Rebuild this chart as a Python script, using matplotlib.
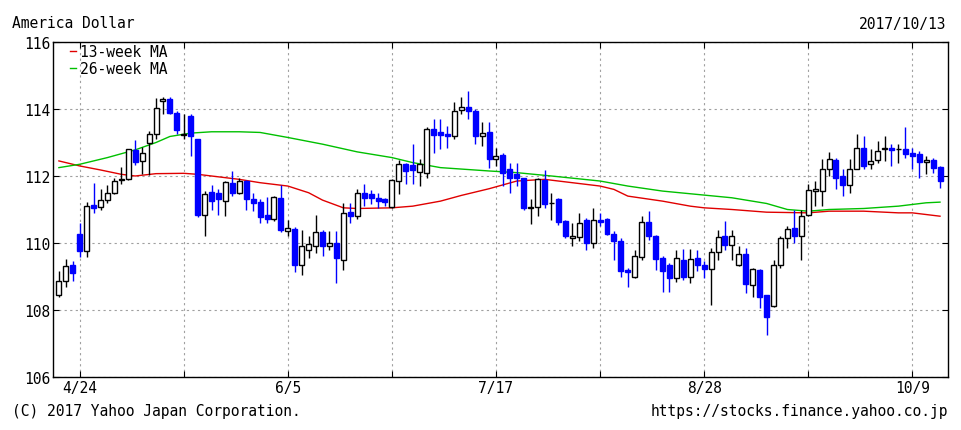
import pandas as pd
import matplotlib.pyplot as plt
from matplotlib.lines import Line2D

# daily candles 2017/4/19 - 2017/10/13 (weekdays)
dates = pd.bdate_range('2017-04-19', '2017-10-13')

opens = [108.44, 108.87, 109.35, 110.27, 109.77, 111.12, 111.06, 111.28, 111.50, 111.87,
         111.92, 112.77, 112.45, 112.98, 113.26, 114.25, 114.30, 113.87, 113.22, 113.80,
         113.10, 110.85, 111.52, 111.50, 111.26, 111.80, 111.50, 111.84, 111.30, 111.23,
         110.83, 110.72, 111.33, 110.35, 110.42, 109.34, 109.80, 109.92, 110.32, 109.90,
         110.00, 109.50, 110.92, 110.82, 111.50, 111.45, 111.35, 111.30, 111.07, 111.85,
         112.35, 112.32, 112.13, 112.10, 113.40, 113.30, 113.25, 113.20, 113.98, 114.05,
         113.95, 113.18, 113.30, 112.50, 112.62, 112.20, 112.05, 111.95, 111.03, 111.08,
         111.88, 111.18, 111.30, 110.65, 110.15, 110.18, 110.70, 110.00, 110.70, 110.72,
         110.28, 110.05, 109.20, 109.00, 109.58, 110.62, 110.20, 109.55, 109.35, 108.95,
         109.50, 109.00, 109.55, 109.35, 109.22, 109.72, 110.20, 109.95, 109.35, 109.68,
         108.75, 109.20, 108.45, 108.12, 109.35, 110.15, 110.45, 110.20, 110.85, 111.55,
         111.55, 112.20, 112.47, 112.00, 111.72, 112.22, 112.85, 112.35, 112.48, 112.80,
         112.85, 112.80, 112.80, 112.70, 112.67, 112.42, 112.48, 112.28]
highs = [109.15, 109.52, 109.47, 110.61, 111.23, 111.80, 111.60, 111.72, 111.95, 112.27,
         112.82, 113.08, 112.88, 113.33, 114.33, 114.35, 114.37, 113.95, 113.85, 113.85,
         113.10, 111.55, 111.72, 111.60, 111.84, 112.14, 111.94, 111.87, 111.50, 111.30,
         111.36, 111.41, 111.72, 110.70, 110.48, 110.40, 110.20, 110.83, 110.40, 110.35,
         110.35, 111.20, 111.20, 111.60, 111.75, 111.57, 111.50, 111.35, 111.90, 112.47,
         112.40, 112.95, 112.50, 113.45, 113.70, 113.70, 113.50, 114.20, 114.35, 114.55,
         114.00, 113.60, 113.60, 112.85, 112.70, 112.40, 112.40, 111.95, 111.30, 111.93,
         112.18, 111.50, 111.35, 110.70, 110.60, 110.90, 110.75, 111.05, 110.90, 110.75,
         110.35, 110.15, 109.25, 109.80, 110.80, 110.95, 110.25, 109.60, 109.40, 109.80,
         109.82, 109.82, 109.80, 109.45, 109.85, 110.40, 110.65, 110.40, 109.90, 109.85,
         109.25, 109.22, 108.45, 109.50, 110.20, 110.50, 111.00, 111.00, 111.75, 111.85,
         112.50, 112.72, 112.55, 112.20, 112.50, 113.25, 113.20, 112.80, 113.05, 113.20,
         112.95, 112.95, 113.45, 112.85, 112.75, 112.60, 112.55, 112.30]
lows = [108.40, 108.68, 108.88, 109.59, 109.59, 110.90, 111.00, 111.18, 111.45, 111.77,
        111.87, 112.32, 112.07, 112.03, 113.11, 113.85, 113.85, 113.26, 113.10, 112.60,
        110.78, 110.20, 111.00, 110.85, 110.80, 111.40, 111.46, 111.00, 110.95, 110.60,
        110.60, 110.66, 110.32, 110.20, 109.14, 109.04, 109.55, 109.70, 109.60, 109.80,
        108.80, 109.20, 110.60, 110.72, 111.10, 111.15, 111.05, 111.10, 111.05, 111.45,
        111.75, 111.75, 111.70, 111.95, 112.70, 112.80, 112.85, 113.10, 113.85, 113.70,
        112.95, 112.90, 112.25, 112.30, 111.70, 111.50, 111.70, 111.00, 110.58, 110.80,
        111.05, 110.70, 110.55, 110.15, 109.90, 110.05, 109.80, 109.85, 110.50, 110.25,
        109.50, 109.00, 108.70, 108.95, 109.50, 110.10, 109.20, 108.55, 108.55, 108.85,
        108.90, 108.82, 109.15, 108.95, 108.15, 109.50, 109.80, 109.50, 109.30, 108.50,
        108.40, 108.05, 107.25, 108.10, 109.25, 109.85, 110.00, 109.50, 110.80, 111.10,
        111.10, 112.00, 111.60, 111.40, 111.48, 112.20, 112.20, 112.20, 112.40, 112.45,
        112.30, 112.40, 112.55, 112.20, 111.95, 112.05, 112.10, 111.65]
closes = [108.87, 109.32, 109.10, 109.77, 111.10, 111.04, 111.28, 111.50, 111.85, 111.92,
          112.80, 112.42, 112.70, 113.26, 114.03, 114.30, 113.87, 113.36, 113.25, 113.20,
          110.83, 111.45, 111.26, 111.30, 111.82, 111.50, 111.84, 111.30, 111.20, 110.79,
          110.73, 111.36, 110.40, 110.45, 109.34, 109.92, 109.98, 110.32, 109.92, 110.00,
          109.54, 110.90, 110.82, 111.50, 111.35, 111.35, 111.25, 111.22, 111.87, 112.35,
          112.15, 112.17, 112.35, 113.40, 113.22, 113.22, 113.20, 113.95, 114.05, 113.95,
          113.18, 113.28, 112.52, 112.60, 112.08, 111.95, 111.95, 111.05, 111.07, 111.90,
          111.15, 111.20, 110.62, 110.20, 110.22, 110.60, 110.00, 110.68, 110.62, 110.28,
          110.05, 109.15, 109.12, 109.60, 110.62, 110.20, 109.52, 109.15, 108.95, 109.55,
          109.00, 109.52, 109.33, 109.22, 109.72, 110.18, 109.95, 110.20, 109.68, 108.78,
          109.22, 108.40, 107.80, 109.35, 110.15, 110.43, 110.22, 110.80, 111.58, 111.60,
          112.20, 112.50, 111.95, 111.72, 112.22, 112.85, 112.30, 112.45, 112.75, 112.85,
          112.78, 112.82, 112.65, 112.60, 112.42, 112.48, 112.25, 111.85]

# moving averages (position = candle index)
ma13_idx = [0, 3, 6, 9, 11, 14, 18, 20, 22, 26, 29, 33, 36, 38, 41, 43, 48, 51, 55, 58,
            62, 66, 70, 74, 78, 80, 82, 87, 91, 93, 97, 102, 108, 111, 116, 121, 123, 125, 127]
ma13_val = [112.45, 112.30, 112.18, 112.05, 112.00, 112.07, 112.08, 112.05, 112.00, 111.90,
            111.80, 111.70, 111.50, 111.28, 111.05, 111.03, 111.05, 111.10, 111.25, 111.42,
            111.62, 111.85, 111.90, 111.80, 111.70, 111.60, 111.40, 111.25, 111.10, 111.05,
            111.00, 110.92, 110.90, 110.95, 110.95, 110.90, 110.90, 110.85, 110.80]
ma26_idx = [0, 3, 7, 11, 14, 16, 19, 22, 26, 29, 33, 38, 43, 48, 51, 55, 62, 66, 71, 78,
            82, 87, 93, 97, 102, 105, 108, 111, 116, 121, 125, 127]
ma26_val = [112.25, 112.35, 112.55, 112.78, 113.00, 113.18, 113.28, 113.32, 113.32, 113.30,
            113.15, 112.95, 112.72, 112.55, 112.40, 112.25, 112.15, 112.10, 112.00, 111.85,
            111.70, 111.55, 111.43, 111.35, 111.18, 111.00, 110.95, 111.00, 111.03, 111.10,
            111.20, 111.22]

xtick_labels = ['4/24', '6/5', '7/17', '8/28', '10/9']
grid_dates = ['2017-04-24', '2017-05-15', '2017-06-05', '2017-06-26', '2017-07-17',
              '2017-08-07', '2017-08-28', '2017-09-18', '2017-10-09']
yticks = [106, 108, 110, 112, 114, 116]

MONO = 'DejaVu Sans Mono'
FS = 10.5
UP_EDGE = 'black'
DOWN = '#0000ff'

fig = plt.figure(figsize=(9.61, 4.31), dpi=100)
ax = fig.add_axes([53 / 961, 1 - 378 / 431, 895 / 961, 335 / 431])

x = list(range(len(dates)))
up = [c >= o for o, c in zip(opens, closes)]

# wicks
ax.vlines(x, lows, highs, colors=[UP_EDGE if u else DOWN for u in up], lw=1.0, zorder=3)

# MA lines behind the bodies
ax.plot(ma13_idx, ma13_val, color='#e00000', lw=1.0, zorder=2)
ax.plot(ma26_idx, ma26_val, color='#00c000', lw=1.0, zorder=2)

# bodies
bottoms = [min(o, c) for o, c in zip(opens, closes)]
heights = [abs(c - o) for o, c in zip(opens, closes)]
ax.bar(x, heights, bottom=bottoms, width=0.72,
       color=['white' if u else DOWN for u in up],
       edgecolor=[UP_EDGE if u else DOWN for u in up], lw=1.0, zorder=4)

ax.set_xlim(-0.85, 128.15)
ax.set_ylim(106, 116)

pos = {d.strftime('%Y-%m-%d'): i for i, d in enumerate(dates)}
grid_pos = [pos[d] for d in grid_dates]
ax.set_xticks(grid_pos[::2])
ax.set_xticklabels(xtick_labels, fontfamily=MONO, fontsize=FS)
ax.set_xticks(grid_pos[1::2], minor=True)
ax.set_yticks(yticks)
ax.set_yticklabels([str(v) for v in yticks], fontfamily=MONO, fontsize=FS)

ax.grid(True, which='both', color='#a0a0a0', linestyle=(0, (2, 3)), lw=0.8, zorder=1)
ax.tick_params(which='both', direction='in', length=4, top=True, right=True, width=0.8, pad=2)
for s in ax.spines.values():
    s.set_linewidth(1.0)

handles = [Line2D([], [], color='#e00000', lw=1.0),
           Line2D([], [], color='#00c000', lw=1.0)]
ax.legend(handles, ['13-week MA', '26-week MA'], loc='upper left', frameon=False,
          prop={'family': MONO, 'size': FS}, handlelength=0.45, handletextpad=0.25,
          labelspacing=0.1, borderaxespad=0.0, bbox_to_anchor=(0.012, 1.01))

fig.text(12 / 961, 1 - 24 / 431, 'America Dollar', fontfamily=MONO, fontsize=FS, va='center')
fig.text(946 / 961, 1 - 24 / 431, '2017/10/13', fontfamily=MONO, fontsize=FS, va='center', ha='right')
fig.text(12 / 961, 1 - 412 / 431, '(C) 2017 Yahoo Japan Corporation.', fontfamily=MONO,
         fontsize=FS, va='center')
fig.text(948 / 961, 1 - 412 / 431, 'https://stocks.finance.yahoo.co.jp', fontfamily=MONO,
         fontsize=FS, va='center', ha='right')

plt.savefig('out.png', dpi=100)
plt.close()
